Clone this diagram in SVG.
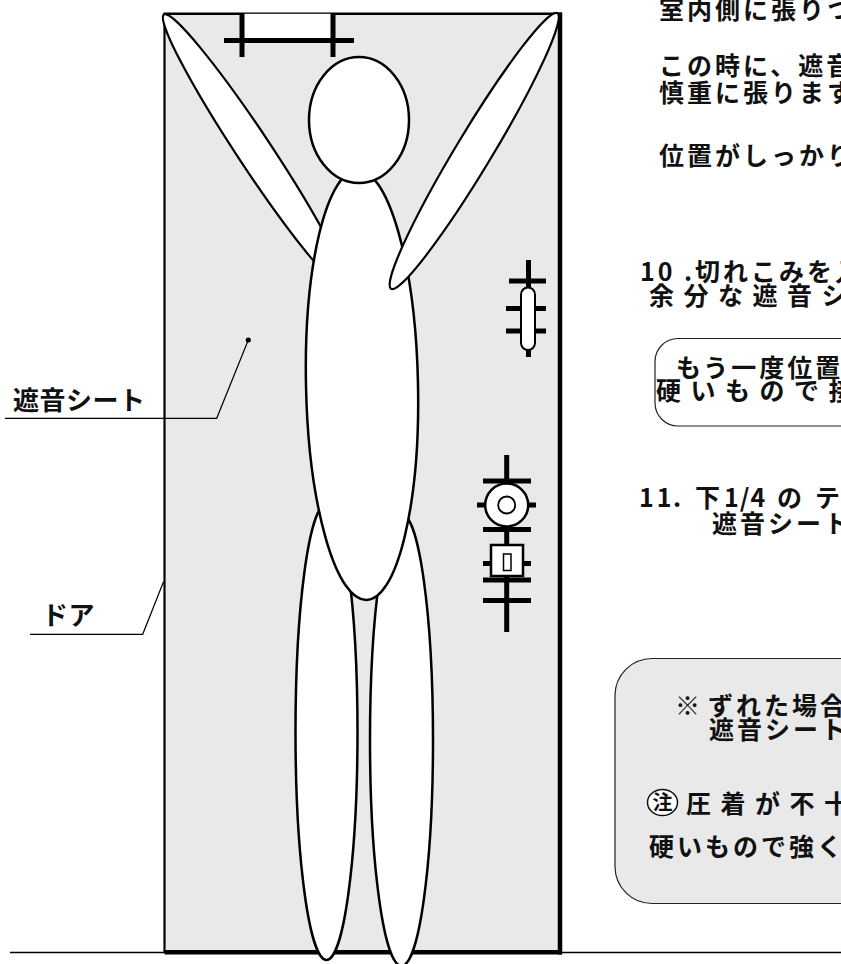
<svg xmlns="http://www.w3.org/2000/svg" width="841" height="964" viewBox="0 0 841 964">
  <style>
    .jp { font-family: "Noto Sans CJK JP", "Noto Sans", sans-serif; font-weight: bold; fill: #111; }
    .txt { font-size: 25px; letter-spacing: 3px; }
    .wide { letter-spacing: 9.5px; }
    .tight { letter-spacing: 1px; }
    .lbl { font-size: 26px; letter-spacing: 0.5px; }
    .body { fill: #fff; stroke: #000; stroke-width: 2.5; }
    .limb { fill: #fff; stroke: #000; stroke-width: 2.2; }
    .bar { stroke: #000; stroke-width: 5; fill: none; }
    .lead { stroke: #000; stroke-width: 1.2; fill: none; }
    .panel { stroke: #222; stroke-width: 1.2; }
    .part { fill: #fff; stroke: #000; }
  </style>

  <!-- floor line -->
  <line x1="10" y1="952.5" x2="841" y2="952.5" stroke="#000" stroke-width="1.5"/>

  <!-- door leaf -->
  <g id="door">
    <rect x="164.5" y="13.8" width="395.5" height="938.5" fill="#e9e9e9"/>
    <line x1="164.5" y1="13.8" x2="164.5" y2="952.5" stroke="#000" stroke-width="2.2"/>
    <line x1="163.5" y1="13.8" x2="562" y2="13.8" stroke="#000" stroke-width="2.6"/>
    <line x1="560" y1="12.5" x2="560" y2="954.5" stroke="#000" stroke-width="4.5"/>
    <line x1="164.5" y1="952.3" x2="562" y2="952.3" stroke="#000" stroke-width="4.5"/>
  </g>

  <!-- top hinge -->
  <g id="hinge-top">
    <rect x="242" y="13.8" width="91" height="26" fill="#fff"/>
    <line class="bar" x1="224" y1="40.5" x2="354" y2="40.5"/>
    <line class="bar" x1="242" y1="13" x2="242" y2="57"/>
    <line class="bar" x1="333" y1="13" x2="333" y2="57"/>
  </g>

  <!-- figure -->
  <g id="figure">
    <ellipse id="arm-left" class="limb" cx="255" cy="152" rx="165" ry="17" transform="rotate(56.5 255 152)"/>
    <ellipse id="leg-left" class="body" cx="326.5" cy="732" rx="31" ry="228"/>
    <ellipse id="leg-right" class="body" cx="401.5" cy="740" rx="31.5" ry="226"/>
    <ellipse id="torso" class="body" cx="362" cy="385" rx="56" ry="215" transform="rotate(-1.2 362 385)"/>
    <ellipse id="head" class="body" cx="359" cy="120" rx="50" ry="63"/>
    <ellipse id="arm-right" class="limb" cx="474.2" cy="151" rx="161" ry="18" transform="rotate(-58.9 474.2 151)"/>
  </g>

  <!-- upper latch fitting -->
  <g id="fitting-upper">
    <line class="bar" x1="528.5" y1="260" x2="528.5" y2="357"/>
    <line class="bar" x1="509" y1="281" x2="546" y2="281"/>
    <line class="bar" x1="506" y1="308.5" x2="546" y2="308.5"/>
    <line class="bar" x1="506" y1="331" x2="546" y2="331"/>
    <rect class="part" x="521" y="287.5" width="14" height="62.5" rx="7" stroke-width="2"/>
  </g>

  <!-- knob and lock fitting -->
  <g id="fitting-lock">
    <line class="bar" x1="506.7" y1="455" x2="506.7" y2="632"/>
    <line class="bar" x1="483" y1="481" x2="531" y2="481"/>
    <line class="bar" x1="477" y1="505" x2="536" y2="505"/>
    <line class="bar" x1="483" y1="529.5" x2="531" y2="529.5"/>
    <line class="bar" x1="483" y1="563.5" x2="531" y2="563.5"/>
    <line class="bar" x1="483" y1="580" x2="531" y2="580"/>
    <line class="bar" x1="483" y1="600.5" x2="531" y2="600.5"/>
    <circle class="part" cx="506.7" cy="505" r="21.5" stroke-width="2.5"/>
    <circle class="part" cx="506.7" cy="505" r="8.5" stroke-width="1.8"/>
    <rect class="part" x="491" y="545" width="32" height="31" stroke-width="2.5"/>
    <rect class="part" x="503.5" y="554" width="7.5" height="16.5" stroke-width="1.5"/>
  </g>

  <!-- leader lines -->
  <g id="connectors">
    <polyline class="lead" points="5,418.3 216.7,418.3 248.3,340"/>
    <circle cx="248.3" cy="340" r="2.6" fill="#000"/>
    <polyline class="lead" points="30,634.3 142.7,634.3 163.5,581.7"/>
  </g>

  <!-- callout labels -->
  <g id="label-sheet">
    <text class="jp lbl" x="13" y="410">遮音シート</text>
  </g>
  <g id="label-door">
    <text class="jp lbl" x="42" y="625">ドア</text>
  </g>

  <!-- instruction text -->
  <g id="step-9">
    <text class="jp txt" x="659" y="19">室内側に張りつ</text>
    <text class="jp txt" x="659" y="75">この時に、遮音</text>
    <text class="jp txt" x="659" y="101.5">慎重に張ります</text>
    <text class="jp txt" x="659" y="165">位置がしっかり</text>
  </g>

  <g id="step-10">
    <text class="jp txt" y="281"><tspan x="640">10</tspan><tspan x="684">.</tspan><tspan x="695">切れこみを入</tspan></text>
    <text class="jp txt wide" x="649" y="304.5">余分な遮音シ</text>
  </g>

  <g id="note-recheck">
    <rect class="panel" x="655" y="338.5" width="240" height="87.5" rx="23" fill="#fff"/>
    <text class="jp txt" x="676" y="377">もう一度位置</text>
    <text class="jp txt wide" x="656" y="399.5">硬いもので接</text>
  </g>

  <g id="step-11">
    <text class="jp txt" y="507"><tspan x="639">11</tspan><tspan x="673">.</tspan><tspan x="695">下</tspan><tspan class="tight" x="724">1/4</tspan><tspan x="777">の</tspan><tspan x="815">テ</tspan></text>
    <text class="jp txt" x="712" y="533">遮音シート</text>
  </g>

  <g id="note-caution">
    <rect class="panel" x="615" y="658.5" width="280" height="245" rx="37" fill="#e9e9e9"/>
    <text class="jp txt" y="715"><tspan x="675">※</tspan><tspan x="708">ずれた場合</tspan></text>
    <text class="jp txt" x="709" y="739">遮音シート</text>
    <ellipse cx="662.5" cy="802.5" rx="15" ry="13" fill="#fff" stroke="#111" stroke-width="1.5"/>
    <text class="jp" x="662.5" y="809.5" font-size="20" text-anchor="middle">注</text>
    <text class="jp txt wide" x="686" y="813">圧着が不十</text>
    <text class="jp txt" x="649" y="856">硬いもので強く</text>
  </g>
</svg>
